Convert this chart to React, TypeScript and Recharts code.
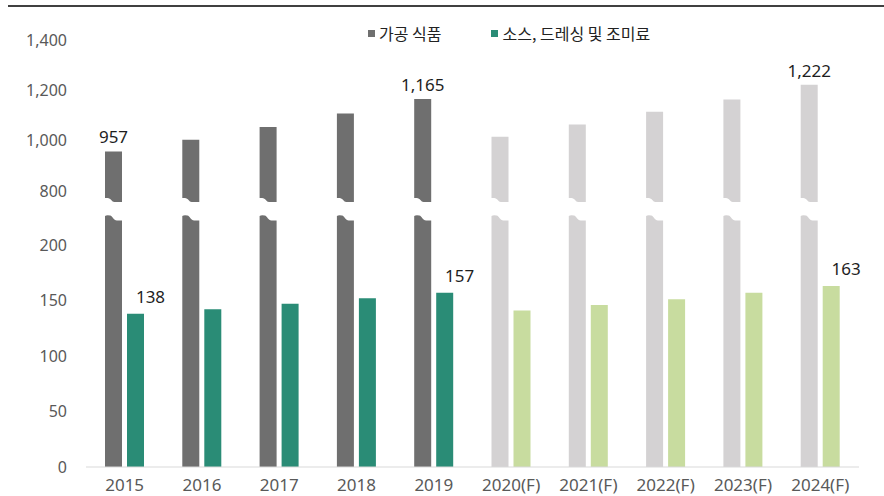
import {Bar, BarChart, Cell, LabelList, Legend, XAxis, YAxis} from 'recharts';

const YEARS = ['2015', '2016', '2017', '2018', '2019', '2020(F)', '2021(F)', '2022(F)', '2023(F)', '2024(F)'];
const PROCESSED_FOOD = [957, 1003, 1054, 1108, 1165, 1015, 1064, 1115, 1163, 1222];
const SAUCES = [138, 142, 147, 152, 157, 141, 146, 151, 157, 163];
const LABELED_YEARS = ['2015', '2019', '2024(F)'];
const UPPER_TICKS = [800, 1000, 1200, 1400];
const LOWER_TICKS = [0, 50, 100, 150, 200];

const GRAY = '#6f6f6f';
const GRAY_F = '#d4d2d3';
const GREEN = '#2a8c76';
const GREEN_F = '#c8dc9f';

const LOWER_TOP = 20;
const NUM_FONT = '"Noto Sans", sans-serif';
const KR_FONT = '"Noto Sans CJK KR", sans-serif';

const rows = YEARS.map((year, i) => ({
    year,
    processed: PROCESSED_FOOD[i],
    sauce: SAUCES[i],
    forecast: year.includes('(F)'),
}));

const fmt = (v: number) => v.toLocaleString('en-US');

// bar cut off at the bottom with a wavy edge
const UpperBreakBar = (props: any) => {
    const {x, y, width: w, height: h, fill} = props;
    const b = y + h;
    const d = `M${x},${y} H${x + w} V${b} H${x + w * 0.55} C${x + w * 0.4},${b} ${x + w * 0.35},${b - 4} ${x + w * 0.15},${b - 4} H${x} Z`;
    return <path d={d} fill={fill}/>;
};

// bar cut off at the top with a wavy edge
const LowerBreakBar = (props: any) => {
    const {x, y, width: w, height: h, fill} = props;
    const bottom = y + h;
    const t = LOWER_TOP + 5.5;
    const d = `M${x},${bottom} V${t - 4.5} Q${x + w * 0.1},${t - 5.8} ${x + w * 0.3},${t - 5} C${x + w * 0.45},${t - 4.5} ${x + w * 0.5},${t} ${x + w * 0.7},${t} H${x + w} V${bottom} Z`;
    return <path d={d} fill={fill}/>;
};

const Hidden = () => <g/>;

const renderLegend = (props: any) => (
    <div style={{display: 'flex', gap: 50, fontFamily: KR_FONT, fontSize: 16, lineHeight: '20px', color: '#222'}}>
        {(props.payload || []).map((p: any) => (
            <div key={p.value} style={{display: 'flex', alignItems: 'center'}}>
                <span style={{width: 7, height: 7, background: p.color, marginRight: 4, display: 'inline-block'}}/>
                <span>{p.value}</span>
            </div>
        ))}
    </div>
);

const makeLabel = (dx: number, dy: number) => (props: any) => {
    const {x, y, width, value, index} = props;
    if (!LABELED_YEARS.includes(YEARS[index])) return null;
    return (
        <text x={x + width / 2 + dx} y={y - dy} textAnchor="middle" fontFamily={NUM_FONT} fontSize={17} fill="#1e1e1e">
            {fmt(value)}
        </text>
    );
};

const yTick = {fontFamily: NUM_FONT, fontSize: 16, fill: '#595959'};

export default function App() {
    return (
        <div style={{position: 'absolute', left: 0, top: 0, width: 884, height: 496, background: '#fff', overflow: 'hidden'}}>
            <div style={{position: 'absolute', left: 8, top: 5, width: 876, height: 2, background: '#404040'}}/>
            <div style={{position: 'absolute', left: 0, top: 195}}>
                <BarChart width={884} height={301} data={rows} margin={{top: LOWER_TOP, right: 25, bottom: 0, left: 0}}
                          barSize={17} barGap={5}>
                    <XAxis dataKey="year" height={29} axisLine={{stroke: '#d9d9d9'}} tickLine={false} tickMargin={6}
                           tick={{fontFamily: NUM_FONT, fontSize: 17, fill: '#595959'}}/>
                    <YAxis type="number" domain={[0, 227]} ticks={LOWER_TICKS} allowDataOverflow width={86}
                           axisLine={false} tickLine={false} tickSize={0} tickMargin={19} tick={yTick}
                           tickFormatter={fmt}/>
                    <Bar dataKey="processed" fill={GRAY} shape={LowerBreakBar} isAnimationActive={false}>
                        {rows.map((r) => <Cell key={r.year} fill={r.forecast ? GRAY_F : GRAY}/>)}
                    </Bar>
                    <Bar dataKey="sauce" fill={GREEN} isAnimationActive={false}>
                        {rows.map((r) => <Cell key={r.year} fill={r.forecast ? GREEN_F : GREEN}/>)}
                        <LabelList dataKey="sauce" content={makeLabel(15, 11)}/>
                    </Bar>
                </BarChart>
            </div>
            <div style={{position: 'absolute', left: 0, top: 0}}>
                <BarChart width={884} height={210} data={rows} margin={{top: 40, right: 25, bottom: 8, left: 0}}
                          barSize={17} barGap={5}>
                    <XAxis dataKey="year" hide/>
                    <YAxis type="number" domain={[756, 1400]} ticks={UPPER_TICKS} allowDataOverflow width={86}
                           axisLine={false} tickLine={false} tickSize={0} tickMargin={19} tick={yTick}
                           tickFormatter={fmt}/>
                    <Legend verticalAlign="middle" align="center" layout="horizontal" content={renderLegend}
                            wrapperStyle={{top: 23, left: 368, width: 380}}/>
                    <Bar dataKey="processed" name="가공 식품" fill={GRAY} shape={UpperBreakBar} isAnimationActive={false}>
                        {rows.map((r) => <Cell key={r.year} fill={r.forecast ? GRAY_F : GRAY}/>)}
                        <LabelList dataKey="processed" content={makeLabel(0, 8)}/>
                    </Bar>
                    <Bar dataKey="sauce" name="소스, 드레싱 및 조미료" fill={GREEN} shape={Hidden} isAnimationActive={false}/>
                </BarChart>
            </div>
        </div>
    );
}
